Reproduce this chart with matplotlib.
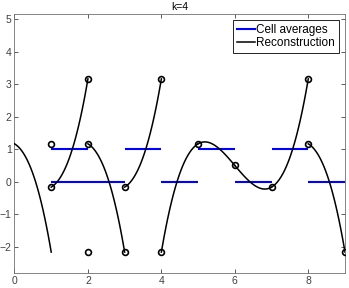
#!/usr/bin/env python3
"""Cell averages and piecewise cubic reconstruction, k=4."""

import matplotlib

matplotlib.use("Agg")

import matplotlib.pyplot as plt
import numpy as np
from matplotlib.lines import Line2D

K = 4
# cell averages on unit cells [i, i+1], periodic with period 2
CELL_AVG = [0, 1, 0, 1, 0, 1, 0, 1, 0]
# left cell index of the stencil used by each cell
STENCIL_LEFT = [-3, -2, -1, 0, 4, 4, 4, 4, 5]
CELLS_DRAWN = [0, 1, 2, 3, 4, 5, 6, 7, 8]

# blue segments as drawn in the figure
AVG_X0 = [1, 1, 3, 4, 5, 6, 7, 8]
AVG_X1 = [2, 3, 4, 5, 6, 7, 8, 9]
AVG_VAL = [1, 0, 1, 0, 1, 0, 1, 0]

# interface markers
PT_X = [1, 1, 2, 2, 2, 3, 3, 4, 4, 5, 6, 7, 8, 8, 9]
PT_Y = [14 / 12, -2 / 12, 38 / 12, 14 / 12, -26 / 12, -2 / 12, -26 / 12, 38 / 12,
        -26 / 12, 14 / 12, 6 / 12, -2 / 12, 38 / 12, 14 / 12, -26 / 12]


def avg(i):
    return CELL_AVG[i % 2]


def cell_poly(left):
    nodes = np.arange(left, left + K + 1, dtype=float)
    prim = np.concatenate([[0.0], np.cumsum([avg(j) for j in range(left, left + K)])])
    P = np.polyfit(nodes, prim, K)
    return np.polyder(P)


def main():
    plt.rcParams["font.family"] = ["Liberation Sans", "DejaVu Sans"]
    fig = plt.figure(figsize=(3.49, 2.88), dpi=100)
    ax = fig.add_axes([0.0415, 0.051, 0.947, 0.9])

    for x0, x1, v in zip(AVG_X0, AVG_X1, AVG_VAL):
        ax.plot([x0, x1], [v, v], color="#0000ff", lw=1.5, solid_capstyle="butt", zorder=2)

    for c, left in zip(CELLS_DRAWN, STENCIL_LEFT):
        p = cell_poly(left)
        xs = np.linspace(c, c + 1, 60)
        ax.plot(xs, np.polyval(p, xs), color="black", lw=1.1, zorder=3)

    ax.plot(PT_X, PT_Y, "o", ms=4.2, mfc="none", mec="black", mew=1.2, zorder=4)

    ax.set_xlim(0, 9)
    ax.set_ylim(-2.82, 5.16)
    ax.set_xticks([0, 2, 4, 6, 8])
    ax.set_yticks([-2, -1, 0, 1, 2, 3, 4, 5])
    ax.tick_params(direction="in", length=3, width=0.6, labelsize=7.5, colors="#404040",
                   top=True, right=True, pad=2)
    for s in ax.spines.values():
        s.set_color("#707070")
        s.set_linewidth(0.6)
    ax.set_title("k=4", fontsize=7.5, pad=3)

    handles = [Line2D([0], [0], color="#0000ff", lw=1.5, label="Cell averages"),
               Line2D([0], [0], color="black", lw=1.1, label="Reconstruction")]
    leg = ax.legend(handles=handles, loc="upper right", fontsize=8.5, fancybox=False,
                    framealpha=1, edgecolor="black", handlelength=1.5, handletextpad=0.1,
                    borderpad=0.35, labelspacing=0.1, borderaxespad=0.5)
    leg.get_frame().set_linewidth(0.6)

    fig.savefig("out.png", dpi=100)
    plt.close(fig)


if __name__ == "__main__":
    main()
